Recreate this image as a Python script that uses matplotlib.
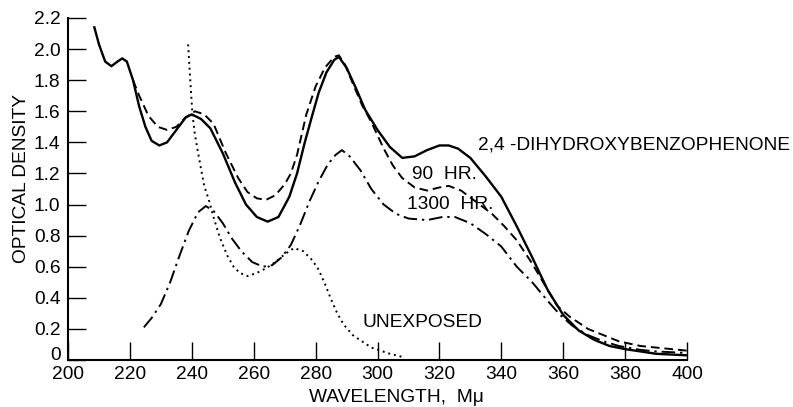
import numpy as np
import matplotlib
matplotlib.use('Agg')
import matplotlib.pyplot as plt
import matplotlib.transforms as mtransforms

# 2,4-二羟基二苯甲酮 吸收曲线
solid_x = [208.5, 210, 212, 214, 216, 217.5, 219, 221, 223, 225, 227, 229.5, 232, 235, 238, 240,
           243, 246, 250, 254, 257.5, 261, 264.5, 268, 271.5, 274, 276.5, 279, 281, 283.5, 286, 287.5,
           290, 293, 296, 300, 304, 308, 312, 316, 320, 323, 326, 330, 335, 340, 345, 350, 355, 360,
           365, 370, 375, 380, 390, 400]
solid_y = [2.14, 2.03, 1.92, 1.89, 1.92, 1.94, 1.92, 1.80, 1.63, 1.50, 1.41, 1.38, 1.40, 1.48, 1.56, 1.58,
           1.55, 1.49, 1.33, 1.14, 1.00, 0.92, 0.89, 0.92, 1.05, 1.20, 1.40, 1.58, 1.72, 1.85, 1.93, 1.95,
           1.88, 1.75, 1.61, 1.48, 1.37, 1.30, 1.31, 1.35, 1.38, 1.38, 1.36, 1.30, 1.18, 1.05, 0.86, 0.66, 0.45, 0.29,
           0.19, 0.13, 0.09, 0.07, 0.04, 0.03]

# 90 小时
hr90_x = [221, 223, 226, 229, 232, 235, 238, 241, 244, 247, 251, 255, 258, 261, 264, 267, 270, 272, 274,
          277, 280, 283, 286, 287.5, 289.5, 292, 295, 298, 302, 305, 308, 312, 316, 320, 323, 327, 331,
          337, 341, 345, 350, 355, 358, 362, 368, 373, 378, 385, 390, 400]
hr90_y = [1.80, 1.70, 1.57, 1.50, 1.48, 1.50, 1.56, 1.60, 1.58, 1.52, 1.33, 1.17, 1.08, 1.04, 1.03, 1.06, 1.13, 1.20, 1.32,
          1.58, 1.76, 1.88, 1.95, 1.96, 1.90, 1.78, 1.64, 1.53, 1.36, 1.25, 1.17, 1.11, 1.09, 1.11, 1.12, 1.09, 1.03,
          0.94, 0.86, 0.77, 0.62, 0.45, 0.35, 0.28, 0.20, 0.16, 0.12, 0.09, 0.08, 0.06]

# 1300 小时
hr1300_x = [224.5, 227, 230, 233, 236, 239, 242, 244.5, 247, 250, 253, 256, 259.5, 263, 266, 269, 272, 275,
            278, 281, 284, 286.5, 288.5, 291, 294.5, 298, 302, 306, 310, 316, 321, 325, 330, 335, 340, 345,
            350, 355, 359, 363, 368, 373, 378, 385, 390, 400]
hr1300_y = [0.21, 0.27, 0.36, 0.50, 0.67, 0.83, 0.95, 0.99, 0.96, 0.88, 0.78, 0.70, 0.63, 0.60, 0.61, 0.66, 0.74, 0.87,
            1.02, 1.15, 1.26, 1.32, 1.35, 1.31, 1.22, 1.10, 1.00, 0.94, 0.91, 0.90, 0.92, 0.92, 0.88, 0.81, 0.73, 0.60,
            0.50, 0.38, 0.29, 0.22, 0.16, 0.12, 0.09, 0.065, 0.055, 0.045]

# 未曝光
unexp_x = [238.8, 239.5, 240.2, 241, 242.5, 244, 245.5, 247, 249, 251.5, 253.5, 255.5, 258, 261, 264, 267,
           270, 273, 276, 279, 281, 283, 285, 287, 289, 292, 295, 298, 301, 304, 308]
unexp_y = [2.03, 1.80, 1.58, 1.45, 1.28, 1.12, 1.03, 0.92, 0.79, 0.67, 0.60, 0.56, 0.54, 0.56, 0.59, 0.63,
           0.68, 0.72, 0.70, 0.64, 0.58, 0.49, 0.39, 0.30, 0.23, 0.16, 0.12, 0.08, 0.06, 0.04, 0.02]

x_ticks = [200, 220, 240, 260, 280, 300, 320, 340, 360, 380, 400]
y_ticks = [0, 0.2, 0.4, 0.6, 0.8, 1.0, 1.2, 1.4, 1.6, 1.8, 2.0, 2.2]
y_tick_labels = ['0', '0.2', '0.4', '0.6', '0.8', '1.0', '1.2', '1.4', '1.6', '1.8', '2.0', '2.2']

plt.rcParams['font.family'] = ['Liberation Sans', 'DejaVu Sans']
fs = 13.8

fig = plt.figure(figsize=(7.93, 4.07), dpi=100)
ax = fig.add_axes([0.0858, 0.1155, 0.7805, 0.8403])

ax.plot(solid_x, solid_y, color='black', lw=1.7, solid_joinstyle='round')
ax.plot(hr90_x, hr90_y, color='black', lw=1.4, dashes=(4.5, 2.5))
ax.plot(hr1300_x, hr1300_y, color='black', lw=1.4, dashes=(7, 2.5, 1.2, 2.5))
ax.plot(unexp_x, unexp_y, color='black', lw=1.4, dashes=(1.0, 2.0))

ax.set_xlim(200, 400)
ax.set_ylim(0, 2.2)
ax.set_xticks(x_ticks)
ax.set_yticks(y_ticks)
ax.set_yticklabels(y_tick_labels)
ax.tick_params(direction='in', length=13, width=1.0, labelsize=fs, colors='black')
ax.tick_params(axis='x', pad=4)
ax.tick_params(axis='y', pad=5.5)

# "0" 标签往上挪一点，避免和 200 重叠
zero_lab = ax.get_yticklabels()[0]
zero_lab.set_transform(zero_lab.get_transform() + mtransforms.ScaledTranslation(0, 6 / 100, fig.dpi_scale_trans))

ax.spines['top'].set_visible(False)
ax.spines['right'].set_visible(False)
ax.spines['left'].set_linewidth(1.5)
ax.spines['bottom'].set_linewidth(1.5)

ax.set_xlabel('WAVELENGTH,  Mμ', fontsize=fs, labelpad=5, x=0.53)
ax.set_ylabel('OPTICAL DENSITY', fontsize=fs, labelpad=2.5, y=0.53)

# 曲线标注
ax.text(332.5, 1.38, '2,4 -DIHYDROXYBENZOPHENONE', fontsize=fs, va='center', ha='left', clip_on=False)
ax.text(311.1, 1.19, '90  HR.', fontsize=fs, va='center', ha='left')
ax.text(309.5, 1.00, '1300  HR.', fontsize=fs, va='center', ha='left')
ax.text(295, 0.24, 'UNEXPOSED', fontsize=fs, va='center', ha='left')

plt.savefig('out.png', dpi=100)
